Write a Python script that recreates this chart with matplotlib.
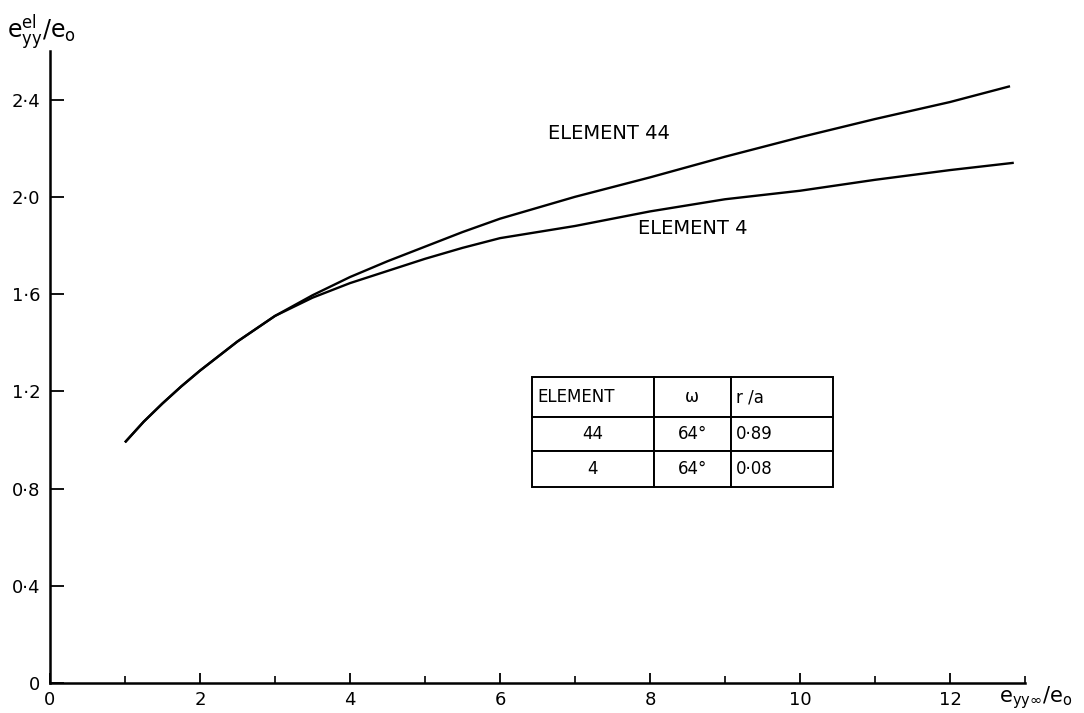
import matplotlib
matplotlib.use('Agg')
import matplotlib.pyplot as plt
from matplotlib.ticker import MultipleLocator, FuncFormatter

# strain ratio curves for the two elements
x_44 = [1.0, 1.25, 1.5, 1.75, 2.0, 2.5, 3.0, 3.5, 4.0, 4.5, 5.0, 5.5, 6.0,
        6.5, 7.0, 8.0, 9.0, 10.0, 11.0, 12.0, 12.8]
y_44 = [0.99, 1.075, 1.15, 1.22, 1.285, 1.405, 1.51, 1.595, 1.67, 1.735, 1.795,
        1.855, 1.91, 1.955, 2.0, 2.08, 2.165, 2.245, 2.32, 2.39, 2.455]
x_4 = [1.0, 1.25, 1.5, 1.75, 2.0, 2.5, 3.0, 3.5, 4.0, 4.5, 5.0, 5.5, 6.0,
       6.5, 7.0, 8.0, 9.0, 10.0, 11.0, 12.0, 12.85]
y_4 = [0.99, 1.075, 1.15, 1.22, 1.285, 1.405, 1.51, 1.585, 1.645, 1.695, 1.745,
       1.79, 1.83, 1.855, 1.88, 1.94, 1.99, 2.025, 2.07, 2.11, 2.14]

table_rows = [['ELEMENT', '\u03c9', 'r /a'],
              ['44', '64\u00b0', '0\u00b789'],
              ['4', '64\u00b0', '0\u00b708']]

plt.rcParams['font.family'] = ['DejaVu Sans']
plt.rcParams['mathtext.fontset'] = 'dejavusans'
fig = plt.figure(figsize=(10.84, 7.13), dpi=100)
ax = fig.add_axes([0.0461, 0.0421, 0.8995, 0.8864])

ax.plot(x_44, y_44, color='black', lw=1.7, solid_capstyle='butt')
ax.plot(x_4, y_4, color='black', lw=1.7, solid_capstyle='butt')

ax.text(6.64, 2.26, 'ELEMENT 44', fontsize=14, va='center', ha='left')
ax.text(7.84, 1.87, 'ELEMENT 4', fontsize=14, va='center', ha='left')

ax.set_xlim(0, 13)
ax.set_ylim(0, 2.6)
for side in ('top', 'right'):
    ax.spines[side].set_visible(False)
for side in ('left', 'bottom'):
    ax.spines[side].set_linewidth(1.8)

ax.xaxis.set_major_locator(MultipleLocator(2))
ax.xaxis.set_minor_locator(MultipleLocator(1))
ax.yaxis.set_major_locator(MultipleLocator(0.4))


def dot_fmt(v, pos):
    if abs(v) < 1e-9:
        return '0'
    return f'{v:.1f}'.replace('.', '\u00b7')


ax.yaxis.set_major_formatter(FuncFormatter(dot_fmt))
ax.xaxis.set_major_formatter(FuncFormatter(lambda v, p: f'{v:.0f}'))
ax.tick_params(axis='y', which='major', direction='in', length=10,
               width=1.3, labelsize=13, pad=7)
ax.tick_params(axis='x', which='major', direction='in', length=7,
               width=1.3, labelsize=13, pad=6)
ax.tick_params(axis='x', which='minor', direction='in', length=5, width=1.2)

# axis titles sit outside the frame, as in a hand-lettered figure
fig.text(0.006, 1 - 38 / 713,
         r'$\mathrm{e}^{\mathrm{el}}_{\mathrm{yy}}/\mathrm{e}_{\mathrm{o}}$',
         fontsize=17, ha='left', va='baseline')
ax.text(12.65, -0.06, r'$\mathrm{e}_{\mathrm{yy}\infty}/\mathrm{e}_{\mathrm{o}}$',
        fontsize=15, ha='left', va='center', clip_on=False)

tbl = ax.table(cellText=table_rows, colWidths=[122, 77, 102],
               bbox=[0.494, 0.310, 0.309, 0.174], edges='closed')
tbl.auto_set_font_size(False)
tbl.set_fontsize(12)
row_h = [40, 34, 36]
aligns = [['left', 'center', 'left'],
          ['center', 'center', 'left'],
          ['center', 'center', 'left']]
for (r, c), cell in tbl.get_celld().items():
    cell.set_height(row_h[r])
    cell.set_linewidth(1.4)
    cell.set_edgecolor('black')
    cell._loc = aligns[r][c]
    cell.PAD = 0.05
    cell.get_text().set_ha(aligns[r][c])

fig.savefig('out.png', dpi=100)
